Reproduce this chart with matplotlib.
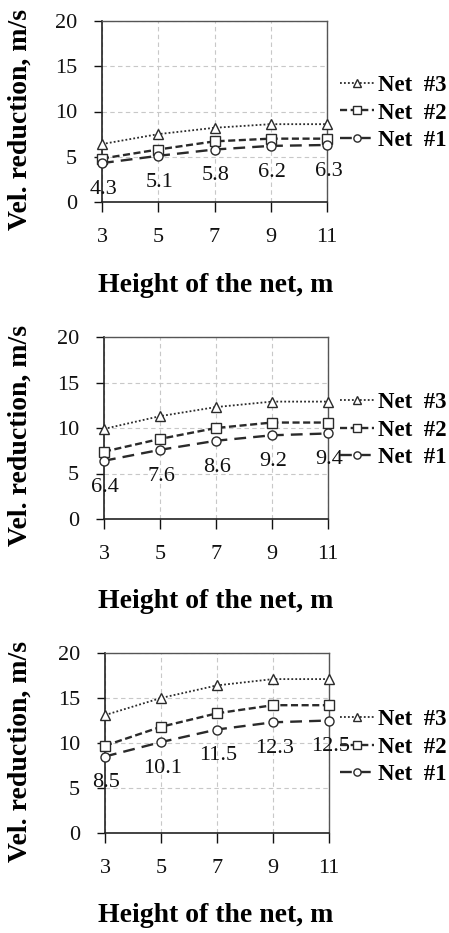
import matplotlib
matplotlib.use("Agg")
import matplotlib.pyplot as plt

plt.rcParams['font.family'] = ['Liberation Serif', 'DejaVu Serif']

# data
heights = [3, 5, 7, 9, 11]
net1_a = [4.3, 5.1, 5.8, 6.2, 6.3]
net2_a = [4.8, 5.8, 6.7, 7.0, 7.0]
net3_a = [6.4, 7.5, 8.2, 8.6, 8.6]
net1_b = [6.4, 7.6, 8.6, 9.2, 9.4]
net2_b = [7.4, 8.8, 10.0, 10.6, 10.6]
net3_b = [9.9, 11.3, 12.3, 12.9, 12.9]
net1_c = [8.5, 10.1, 11.5, 12.3, 12.5]
net2_c = [9.7, 11.8, 13.3, 14.2, 14.2]
net3_c = [13.1, 15.0, 16.4, 17.1, 17.1]
y_ticks = [0, 5, 10, 15, 20]

panels = [(net1_a, net2_a, net3_a), (net1_b, net2_b, net3_b), (net1_c, net2_c, net3_c)]

W, H = 449, 933
fig = plt.figure(figsize=(W / 100, H / 100), dpi=100)

# axes boxes in pixels: left, top, right, bottom
boxes = [(102, 21, 327, 202), (104, 337, 328, 519), (105, 653, 329, 833)]
legend_y = [113, 430, 747]
ink = '#2a2a2a'

for (n1, n2, n3), (l, t, r, b), ly in zip(panels, boxes, legend_y):
    ax = fig.add_axes([l / W, 1 - b / H, (r - l) / W, (b - t) / H])
    ax.plot(heights, n3, color=ink, ls=(0, (1, 1.2)), lw=1.3, marker='^', ms=7,
            mfc='white', mec=ink, mew=1, label='Net  #3', clip_on=False, zorder=5)
    ax.plot(heights, n2, color=ink, ls=(0, (3, 1.5)), lw=1.7, marker='s', ms=6.5,
            mfc='white', mec=ink, mew=1, label='Net  #2', clip_on=False, zorder=5)
    ax.plot(heights, n1, color=ink, ls=(0, (5, 3)), lw=1.7, marker='o', ms=6.5,
            mfc='white', mec=ink, mew=1, label='Net  #1', clip_on=False, zorder=5)
    for x, v in zip(heights, n1):
        ax.annotate(f'{v:.1f}', (x, v), xytext=(1, -19), textcoords='offset points',
                    ha='center', va='center', fontsize=16, color='#111111')
    ax.set_xlim(3, 11)
    ax.set_ylim(0, 20)
    ax.set_xticks(heights)
    ax.set_yticks(y_ticks)
    ax.grid(True, color='#c8c8c8', ls=(0, (4, 3)), lw=0.8)
    ax.tick_params(axis='x', direction='out', length=7, width=1, pad=12,
                   labelsize=16, colors='#111111')
    ax.tick_params(axis='y', direction='out', length=6, width=1, pad=12,
                   labelsize=16, colors='#111111')
    for s in ['left', 'bottom']:
        ax.spines[s].set_color('#222222')
        ax.spines[s].set_linewidth(1.2)
    for s in ['top', 'right']:
        ax.spines[s].set_color('#555555')
        ax.spines[s].set_linewidth(1.0)
    ax.legend(loc='center left', bbox_to_anchor=((340 - l) / (r - l), (b - ly) / (b - t)),
              frameon=False, handlelength=1.5, handletextpad=0.15, labelspacing=0.3,
              borderaxespad=0, borderpad=0, prop={'weight': 'bold', 'size': 16.5},
              markerscale=0.8)
    fig.text(20 / W, 1 - ((t + b) / 2 + 8) / H, 'Vel. reduction, m/s', rotation=90,
             ha='center', va='center', fontsize=20, fontweight='bold')
    fig.text(216 / W, 1 - (b + 83) / H, 'Height of the net, m', ha='center', va='center',
             fontsize=20, fontweight='bold')

fig.savefig('out.png', dpi=100)
